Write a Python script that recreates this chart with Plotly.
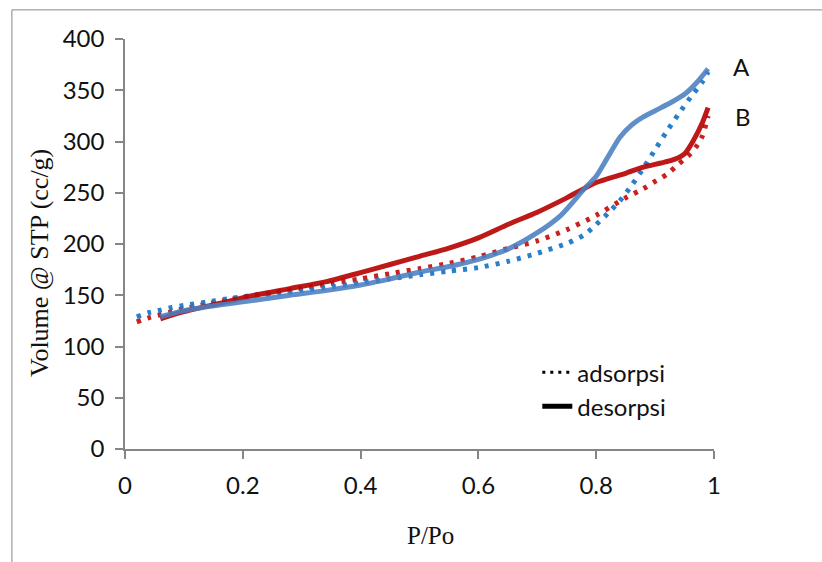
import plotly.graph_objects as go

# Nitrogen isotherms: relative pressure P/Po vs adsorbed volume (cc/g)
a_ads_p = [0.02, 0.04, 0.06, 0.08, 0.10, 0.14, 0.18, 0.22, 0.26, 0.30, 0.35, 0.40, 0.45,
           0.50, 0.55, 0.60, 0.65, 0.70, 0.75, 0.78, 0.80, 0.82, 0.84, 0.86, 0.88, 0.90,
           0.92, 0.94, 0.96, 0.98, 0.99]
a_ads_v = [129, 133, 135.5, 138, 140, 143.5, 147, 150, 152, 154.5, 158, 162, 166,
           170, 173.5, 177, 183, 191, 200.5, 209, 219, 230, 242, 257, 274, 292,
           310, 327, 343, 358, 368]

a_des_p = [0.06, 0.10, 0.16, 0.22, 0.28, 0.34, 0.40, 0.45, 0.50, 0.55, 0.60, 0.65, 0.70,
           0.74, 0.78, 0.80, 0.82, 0.84, 0.86, 0.88, 0.90, 0.93, 0.95, 0.97, 0.99]
a_des_v = [129, 135, 140.5, 145, 150, 154.5, 160, 166, 172.5, 178, 185, 195, 211,
           228, 254, 266, 285, 304, 316, 324, 330, 339, 346, 357, 371]

b_ads_p = [0.02, 0.04, 0.06, 0.08, 0.10, 0.14, 0.18, 0.22, 0.26, 0.30, 0.35, 0.40, 0.45,
           0.50, 0.55, 0.60, 0.65, 0.70, 0.75, 0.80, 0.85, 0.88, 0.90, 0.92, 0.94, 0.96,
           0.97, 0.98, 0.99]
b_ads_v = [124, 128, 131, 134, 137, 141.5, 146, 150, 153.5, 157, 161.5, 166, 171,
           176, 181, 187.5, 195.5, 203, 214, 228, 245, 254, 261, 268, 278, 288,
           295, 305, 325]

b_des_p = [0.06, 0.10, 0.16, 0.22, 0.28, 0.34, 0.40, 0.45, 0.50, 0.55, 0.60, 0.65, 0.70,
           0.75, 0.80, 0.85, 0.88, 0.91, 0.93, 0.95, 0.965, 0.98, 0.99]
b_des_v = [127, 134, 142, 150, 156.5, 163, 172, 180, 188, 196, 206, 219, 231,
           245, 260, 269, 275, 279, 282, 288, 301, 318, 333]

x_ticks = [0, 0.2, 0.4, 0.6, 0.8, 1]
x_tick_text = ["0", "0.2", "0.4", "0.6", "0.8", "1"]
y_ticks = [0, 50, 100, 150, 200, 250, 300, 350, 400]

BLUE_LINE = "rgba(74,126,192,0.88)"
BLUE_DOT = "rgba(30,120,200,0.95)"
RED_LINE = "rgba(185,5,5,0.92)"
RED_DOT = "rgba(200,20,20,0.95)"

SANS = "Lato, 'Open Sans', sans-serif"
SERIF = "Liberation Serif, 'Times New Roman', serif"
TICK_FONT = dict(family=SANS, size=24, color="#111")

fig = go.Figure()

curves = [
    (b_ads_p, b_ads_v, RED_DOT, "4px,7px"),
    (a_ads_p, a_ads_v, BLUE_DOT, "4px,7px"),
    (b_des_p, b_des_v, RED_LINE, "solid"),
    (a_des_p, a_des_v, BLUE_LINE, "solid"),
]
for px, vol, col, dash in curves:
    fig.add_trace(go.Scatter(
        x=px, y=vol, mode="lines",
        line=dict(color=col, width=5, dash=dash, shape="spline", smoothing=0.7),
        showlegend=False, hoverinfo="skip",
    ))

# legend keys (black samples)
fig.add_trace(go.Scatter(x=[None], y=[None], mode="lines", name="adsorpsi",
                         line=dict(color="black", width=3, dash="3px,5px")))
fig.add_trace(go.Scatter(x=[None], y=[None], mode="lines", name="desorpsi",
                         line=dict(color="black", width=5)))

axis_common = dict(
    showgrid=False, zeroline=False, showline=True, linecolor="#868686", linewidth=1.5,
    ticks="outside", ticklen=8, tickwidth=1.5, tickcolor="#868686",
    tickfont=TICK_FONT, mirror=False,
)

fig.update_layout(
    width=822, height=562,
    margin=dict(l=125, r=108, t=39, b=113),
    paper_bgcolor="white", plot_bgcolor="rgba(0,0,0,0)",
    xaxis=dict(range=[0, 1], tickvals=x_ticks, ticktext=x_tick_text,
               ticklabelstandoff=6, **axis_common),
    yaxis=dict(range=[0, 400], tickvals=y_ticks, ticklabelstandoff=6, **axis_common),
    legend=dict(
        x=0.70, y=0.145, xanchor="left", yanchor="middle",
        bgcolor="rgba(0,0,0,0)", font=dict(family=SANS, size=24, color="#111"),
        tracegroupgap=0,
    ),
    shapes=[
        dict(type="line", xref="paper", yref="paper", x0=-0.192, x1=-0.192, y0=1.071, y1=-0.3,
             line=dict(color="#888", width=1)),
        dict(type="line", xref="paper", yref="paper", x0=-0.192, x1=1.2, y0=1.071, y1=1.071,
             line=dict(color="#888", width=1)),
    ],
    annotations=[
        dict(text="A", xref="paper", yref="paper", x=1.046, y=0.934, showarrow=False,
             xanchor="center", yanchor="middle",
             font=dict(family=SANS, size=24, color="#111")),
        dict(text="B", xref="paper", yref="paper", x=1.049, y=0.812, showarrow=False,
             xanchor="center", yanchor="middle",
             font=dict(family=SANS, size=24, color="#111")),
        dict(text="P/Po", xref="paper", yref="paper", x=0.519, y=-0.212, showarrow=False,
             xanchor="center", yanchor="middle",
             font=dict(family=SERIF, size=25, color="#111")),
        dict(text="Volume @ STP (cc/g)", xref="paper", yref="paper", x=-0.144, y=0.454,
             showarrow=False, textangle=-90, xanchor="center", yanchor="middle",
             font=dict(family=SERIF, size=26, color="#111")),
    ],
)

fig.write_html("out.html")
